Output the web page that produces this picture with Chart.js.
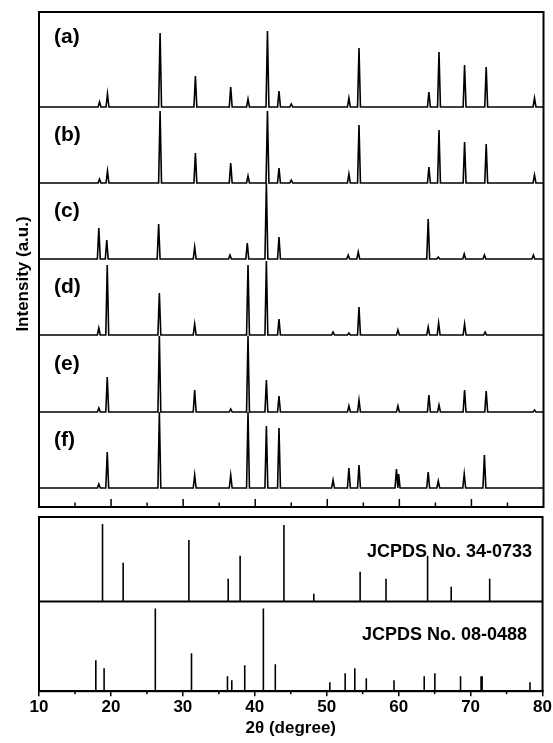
<!DOCTYPE html>
<html>
<head>
<meta charset="utf-8">
<script src="https://cdn.jsdelivr.net/npm/chart.js@4.4.0/dist/chart.umd.min.js"></script>
<style>
  body { margin: 0; background: #fff; }
  #top { position: absolute; left: 0; top: 0; width: 553px; height: 512px; }
  #bottom { position: absolute; left: 0; top: 512px; width: 553px; height: 231px; }
</style>
</head>
<body>
<div id="top"><canvas id="xrd"></canvas></div>
<div id="bottom"><canvas id="ref"></canvas></div>
<script>
const FONT = "'Liberation Sans', Arial, sans-serif";

// peaks: [2theta, height above the trace baseline]
const sampleNames = ['(a)', '(b)', '(c)', '(d)', '(e)', '(f)'];
const peaksA = [[18.4, 5], [19.5, 13], [26.8, 74], [31.7, 31], [36.6, 20], [39.0, 8], [41.7, 76], [43.3, 16], [45.0, 3], [53.0, 9], [54.4, 59], [64.1, 15], [65.5, 55], [69.05, 42], [72.05, 40], [78.75, 9]];
const peaksB = [[18.4, 4], [19.5, 12], [26.8, 72], [31.7, 30], [36.6, 20], [39.0, 7], [41.7, 72], [43.3, 15], [45.0, 3], [53.0, 9], [54.4, 58], [64.1, 16], [65.5, 53], [69.05, 41], [72.05, 39], [78.75, 8]];
const peaksC = [[18.3, 31], [19.4, 19], [26.6, 35], [31.6, 12], [36.5, 4], [38.9, 16], [41.55, 76], [43.3, 22], [52.9, 4], [54.3, 7], [64.0, 40], [65.4, 2], [69.0, 5], [71.8, 4], [78.6, 4]];
const peaksD = [[18.3, 7], [19.47, 70], [26.7, 42], [31.6, 11], [39.0, 70], [41.55, 74], [43.3, 16], [50.8, 3], [53.0, 2], [54.4, 28], [59.8, 5], [64.0, 8], [65.45, 12], [69.05, 11], [71.9, 3]];
const peaksE = [[18.3, 4], [19.47, 35], [26.7, 76], [31.6, 22], [36.6, 3], [39.0, 76], [41.55, 32], [43.3, 16], [53.0, 6], [54.4, 12], [59.8, 6], [64.1, 17], [65.5, 7], [69.05, 22], [72.05, 21], [78.75, 2]];
const peaksF = [[18.3, 4], [19.47, 36], [26.7, 76], [31.6, 13], [36.6, 13], [39.0, 76], [41.55, 62], [43.3, 60], [50.8, 8], [53.0, 20], [54.4, 23], [59.6, 19], [59.9, 14], [64.0, 16], [65.4, 7], [69.0, 14], [71.8, 33]];
const offsets = [400, 324, 248, 172, 95, 19];
const labelLift = [70, 48, 48, 48, 48, 48];

// reference cards
const card1 = 'JCPDS No. 34-0733';
const sticks1 = [[18.83, 78], [21.7, 39], [30.84, 62], [36.3, 23], [37.96, 46], [44.05, 77], [48.2, 8], [54.64, 30], [58.24, 23], [64.02, 46], [67.3, 15], [72.65, 23]];
const card2 = 'JCPDS No. 08-0488';
const sticks2 = [[17.9, 31], [19.05, 23], [26.17, 83], [31.2, 38], [36.2, 15], [36.8, 11], [38.6, 26], [41.19, 83], [42.85, 27], [50.43, 9], [52.56, 18], [53.9, 23], [55.5, 13], [59.35, 11], [63.55, 15], [65.03, 18], [68.6, 15], [71.45, 15], [71.6, 15], [78.25, 9]];
const cardBase = [90, 0];

function trace(peaks, base) {
  const pts = [{x: 10, y: base}];
  peaks.forEach(([p, h]) => {
    pts.push({x: p - 0.2, y: base}, {x: p, y: base + h}, {x: p + 0.2, y: base});
  });
  pts.push({x: 80, y: base});
  return pts;
}

function sticks(list, base) {
  const pts = [];
  list.forEach(([p, h]) => {
    pts.push({x: p, y: base}, {x: p, y: base + h}, {x: p, y: null});
  });
  return pts;
}

const topDecor = {
  id: 'topDecor',
  afterDatasetsDraw(chart) {
    const {ctx, chartArea: a, scales: {x, y}} = chart;
    ctx.save();
    ctx.strokeStyle = '#000';
    ctx.lineWidth = 2;
    ctx.strokeRect(a.left, a.top, a.right - a.left, a.bottom - a.top);
    ctx.lineWidth = 1.5;
    for (let v = 15; v < 80; v += 5) {
      const px = x.getPixelForValue(v);
      const len = v % 10 === 0 ? 8 : 4.5;
      ctx.beginPath();
      ctx.moveTo(px, a.bottom);
      ctx.lineTo(px, a.bottom - len);
      ctx.stroke();
    }
    ctx.fillStyle = '#000';
    ctx.font = 'bold 21px ' + FONT;
    ctx.textBaseline = 'middle';
    sampleNames.forEach((s, i) => {
      ctx.fillText(s, 54, y.getPixelForValue(offsets[i] + labelLift[i]));
    });
    ctx.translate(23, 274);
    ctx.rotate(-Math.PI / 2);
    ctx.textAlign = 'center';
    ctx.font = 'bold 17px ' + FONT;
    ctx.fillText('Intensity (a.u.)', 0, 0);
    ctx.restore();
  }
};

const refDecor = {
  id: 'refDecor',
  afterDatasetsDraw(chart) {
    const {ctx, chartArea: a, scales: {x, y}} = chart;
    ctx.save();
    ctx.strokeStyle = '#000';
    ctx.lineWidth = 2;
    ctx.strokeRect(a.left, a.top, a.right - a.left, a.bottom - a.top);
    const mid = y.getPixelForValue(cardBase[0]);
    ctx.beginPath();
    ctx.moveTo(a.left, mid);
    ctx.lineTo(a.right, mid);
    ctx.stroke();
    ctx.lineWidth = 1.5;
    for (let v = 15; v < 80; v += 10) {
      const px = x.getPixelForValue(v);
      ctx.beginPath();
      ctx.moveTo(px, a.bottom);
      ctx.lineTo(px, a.bottom + 3);
      ctx.stroke();
    }
    ctx.fillStyle = '#000';
    ctx.font = 'bold 18px ' + FONT;
    ctx.textAlign = 'right';
    ctx.textBaseline = 'middle';
    ctx.fillText(card1, 532, y.getPixelForValue(140));
    ctx.fillText(card2, 527, y.getPixelForValue(56));
    ctx.restore();
  }
};

const lineStyle = {borderColor: '#000', borderWidth: 1.6, pointRadius: 0, tension: 0, fill: false};
const allPeaks = [peaksA, peaksB, peaksC, peaksD, peaksE, peaksF];

new Chart(document.getElementById('xrd'), {
  type: 'line',
  data: {
    datasets: allPeaks.map((pk, i) => Object.assign({label: sampleNames[i], data: trace(pk, offsets[i])}, lineStyle))
  },
  options: {
    responsive: true,
    maintainAspectRatio: false,
    animation: false,
    layout: {padding: {left: 39, right: 9.5, top: 12, bottom: 5}},
    plugins: {legend: {display: false}, tooltip: {enabled: false}},
    scales: {
      x: {type: 'linear', min: 10, max: 80, display: false},
      y: {min: 0, max: 495, display: false}
    }
  },
  plugins: [topDecor]
});

new Chart(document.getElementById('ref'), {
  type: 'line',
  data: {
    datasets: [
      Object.assign({label: card1, data: sticks(sticks1, cardBase[0]), spanGaps: false}, lineStyle),
      Object.assign({label: card2, data: sticks(sticks2, cardBase[1]), spanGaps: false}, lineStyle)
    ]
  },
  options: {
    responsive: true,
    maintainAspectRatio: false,
    animation: false,
    layout: {padding: {left: 39, right: 10, top: 5, bottom: 0}},
    plugins: {legend: {display: false}, tooltip: {enabled: false}},
    scales: {
      x: {
        type: 'linear', min: 10, max: 80,
        border: {display: true, color: '#000', width: 2},
        grid: {display: true, drawOnChartArea: false, drawTicks: true, tickLength: 5, color: '#000', lineWidth: 1.5},
        ticks: {stepSize: 10, padding: 1, color: '#000', font: {family: FONT, size: 17, weight: 'bold'}, maxRotation: 0},
        title: {display: true, text: '2\u03b8 (degree)', color: '#000', padding: {top: 0, bottom: 4}, font: {family: FONT, size: 17, weight: 'bold'}}
      },
      y: {min: 0, max: 175, display: false}
    }
  },
  plugins: [refDecor]
});
</script>
</body>
</html>
